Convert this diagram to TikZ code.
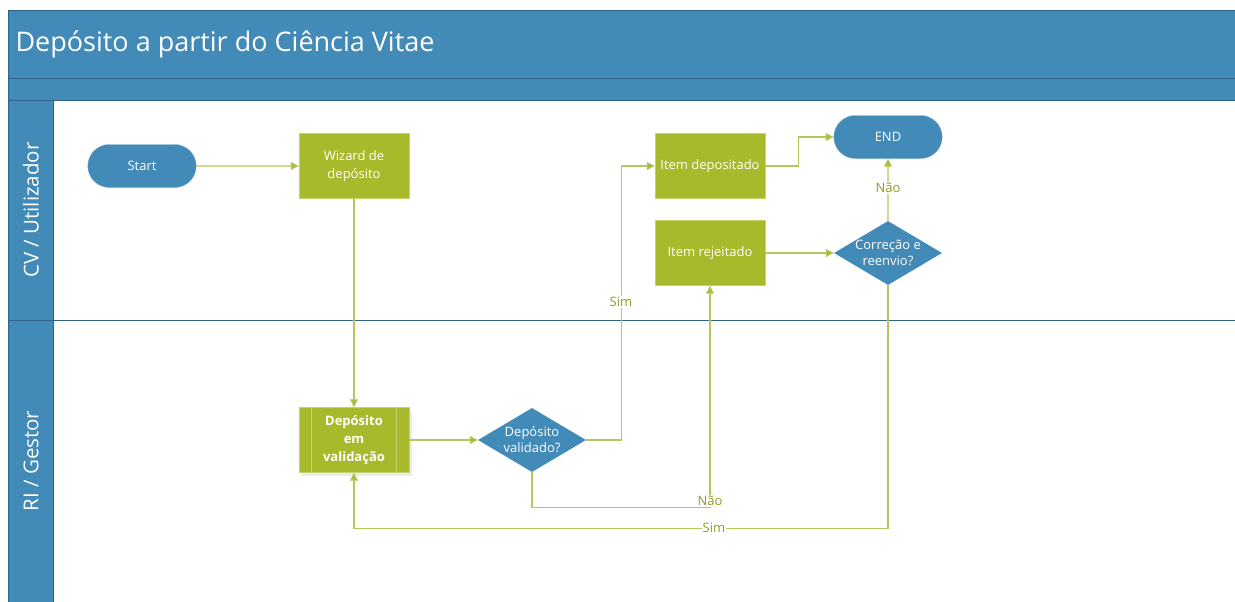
\documentclass[tikz,border=0pt]{standalone}
\usepackage{fontspec}
\setmainfont{Open Sans}
\usetikzlibrary{arrows.meta,shapes.geometric,shapes.misc,shadows}
\definecolor{lane}{HTML}{428AB7}
\definecolor{laneedge}{HTML}{2F6488}
\definecolor{box}{HTML}{A8B92B}
\definecolor{boxedge}{HTML}{C6D26E}
\definecolor{link}{HTML}{B7C65A}
\definecolor{lbltext}{HTML}{8F9D22}
\begin{document}
\begin{tikzpicture}[x=1pt,y=-1pt,
  term/.style={rounded rectangle, fill=lane, draw=lane!70!white, minimum width=115pt, minimum height=43pt, text=white, font=\fontsize{13}{15}\selectfont},
  proc/.style={rectangle, fill=box, draw=boxedge, minimum width=110pt, minimum height=65pt, inner sep=2pt, text=white, align=center, font=\fontsize{13}{18}\selectfont},
  dec/.style={diamond, fill=lane, minimum width=108pt, minimum height=64pt, inner sep=0pt},
  dectext/.style={text=white, align=center, font=\fontsize{13}{16}\selectfont},
  flow/.style={draw=link, line width=1.1pt, -{Triangle[width=8pt,length=8pt,fill=box!85!link]}},
  lbl/.style={fill=white, inner sep=1pt, text=lbltext, font=\fontsize{13}{15}\selectfont},
  lanetext/.style={text=white, rotate=90, font=\fontsize{20.5}{24}\selectfont}]
\useasboundingbox (0,0) rectangle (1235,602);
% pool frame
\fill[white] (0,0) rectangle (1235,602);
\draw[laneedge, fill=lane, line width=0.8pt] (8,10) rectangle (1245,78);
\draw[laneedge, fill=lane, line width=0.8pt] (8,78) rectangle (1245,100);
\draw[laneedge, fill=lane, line width=0.8pt] (8,100) rectangle (53,612);
\draw[laneedge, line width=0.6pt] (8,320) -- (1245,320);
\node[anchor=west, text=white, font=\fontsize{27}{32}\selectfont] (title) at (12,44) {Depósito a partir do Ciência Vitae};
\node[lanetext] (lane1) at (31,210) {CV / Utilizador};
\node[lanetext] (lane2) at (31,461) {RI / Gestor};
% nodes
\node[term] (start) at (142,166) {Start};
\node[proc] (wiz) at (354,166) {Wizard de\\depósito};
\node[proc] (idep) at (710,166) {Item depositado};
\node[term] (endn) at (888,137) {END};
\node[proc] (irej) at (710,253) {Item rejeitado};
\node[dec, label={[dectext]center:Correção e\\reenvio?}] (cr) at (888,253) {};
\node[proc, font=\bfseries\fontsize{13}{18}\selectfont, drop shadow={opacity=0.15, shadow xshift=3pt, shadow yshift=-3pt}] (dv) at (354,440) {Depósito\\em\\validação};
\draw[boxedge, line width=0.8pt] ([xshift=13pt]dv.north west) -- ([xshift=13pt]dv.south west);
\draw[boxedge, line width=0.8pt] ([xshift=-13pt]dv.north east) -- ([xshift=-13pt]dv.south east);
\node[dec, label={[dectext]center:Depósito\\validado?}] (dval) at (532,440) {};
% connectors
\draw[flow] (start) -- (wiz);
\draw[flow] (wiz) -- (dv);
\draw[flow] (dv) -- (dval);
\draw[flow] (dval.east) -- ++(35,0) |- (idep.west);
\draw[flow] (dval.south) -- ++(0,35) -| (irej.south);
\draw[flow] (idep.east) -- ++(33,0) |- (endn.west);
\draw[flow] (irej) -- (cr);
\draw[flow] (cr) -- (endn);
\draw[flow] (cr.south) -- ++(0,243) -| (dv.south);
% labels
\node[lbl] (lsim1) at (621,302) {Sim};
\node[lbl] (lnao1) at (710,501) {Não};
\node[lbl] (lnao2) at (888,188) {Não};
\node[lbl] (lsim2) at (714,528) {Sim};
\end{tikzpicture}
\end{document}
